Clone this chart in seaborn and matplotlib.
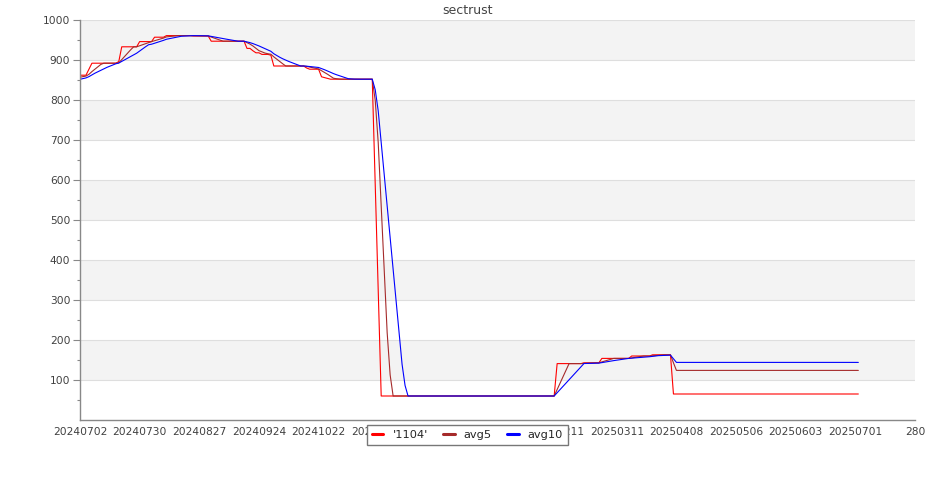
import pandas as pd
import matplotlib
matplotlib.use("Agg")
import matplotlib.pyplot as plt
from matplotlib.lines import Line2D
import seaborn as sns

# values, one point per trading day
raw = ([862] * 3 + [877] + [892] * 9 + [896] + [933] * 6 + [946] * 5 + [957] * 4
       + [961] * 9 + [960] * 6 + [947] * 12 + [929] * 2 + [923] + [918] * 2 + [914] * 3
       + [912] + [885] * 11 + [880] + [877] * 4 + [858, 856, 854] + [852] * 15
       + [588, 324] + [60] * 59 + [141] * 9 + [143] * 6 + [154] * 10 + [160] * 7
       + [163] * 7 + [65] * 63)

avg5 = ([857, 858.4, 859.8, 864.2, 871, 877, 883, 889] + [892] * 5 + [892.8]
        + [901, 909.2, 917.4, 925.6] + [933] * 2 + [935.6, 938.2, 940.8, 943.4, 946]
        + [948.2, 950.4, 952.6, 954.8, 957.8, 958.6, 959.4, 960.2] + [961] * 5
        + [960.8, 960.6, 960.4, 960.2] + [960] * 2 + [957.4, 954.8, 952.2, 949.6]
        + [947] * 8
        + [943.4, 939.8, 935, 929.2, 923.4, 920.4, 917.4, 915.6, 914.4, 907.8, 902,
           896.2, 890.4] + [885] * 7
        + [884, 882.4, 880.8, 879.2, 877.6, 873.2, 869, 864.4, 859.4, 854.4, 853.2,
           852.4] + [852] * 11
        + [799.2, 693.6, 535.2, 376.8, 218.4, 112.8] + [60] * 55
        + [76.2, 92.4, 108.6, 124.8, 141] + [141] * 4 + [141.4, 141.8, 142.2, 142.6]
        + [143] * 2 + [145.2, 147.4, 149.6, 151.8] + [154] * 6
        + [155.2, 156.4, 157.6, 158.8] + [160] * 3 + [160.6, 161.2, 161.8, 162.4]
        + [163] * 3 + [143] + [124] * 62)

avg10 = ([851.8, 853.5, 855.2, 858.4, 862.8, 867.0, 870.7, 874.4, 878.1, 881.5, 884.5,
          887.5, 890.5]
         + [892.4, 896.5, 900.6, 904.7, 908.8, 912.9, 917.0, 922.4, 927.8, 933.2, 938.2]
         + [939.5, 941.9, 944.3, 946.7, 949.1, 951.9, 953.4, 954.9, 956.4, 957.9, 959.4]
         + [959.8, 960.2, 960.6, 960.9, 960.8, 960.7, 960.6, 960.5, 960.4]
         + [959.0, 957.6, 956.2, 954.8, 953.5, 952.2, 950.9, 949.6, 948.3, 947.0]
         + [947] * 2
         + [945.2, 943.4, 941.0, 938.1, 935.2, 931.9, 928.6, 925.3, 921.8, 915.6, 911.2,
            906.8, 903.0, 899.7, 896.4, 893.5, 890.6, 887.7, 885.0] + [885]
         + [884.5, 883.7, 882.9, 882.1, 881.3, 878.6, 875.7, 872.6, 869.3, 866.0, 863.2,
            860.7, 858.2, 855.7, 853.2, 852.6, 852.2, 852.0] + [852] * 5
         + [825.6, 772.8, 693.6, 614.4, 535.2, 456, 376.8, 297.6, 218.4, 139.2, 86.4]
         + [60] * 50
         + [68.1, 76.2, 84.3, 92.4, 100.5, 108.6, 116.7, 124.8, 132.9]
         + [141.2, 141.4, 141.6, 141.8, 142.0, 142.2]
         + [143.5, 144.8, 146.1, 147.4, 148.5, 149.6, 150.7, 151.8, 152.9, 154.0]
         + [154.6, 155.2, 155.8, 156.4, 157.0, 157.6, 158.2]
         + [159.1, 160.0, 160.9, 161.2, 161.5, 161.8, 162.1] + [153] + [144] * 62)

x_labels = ["20240702", "20240730", "20240827", "20240924", "20241022", "20241119",
            "20241217", "20250114", "20250211", "20250311", "20250408", "20250506",
            "20250603", "20250701", "280"]

series = ["'1104'", "avg5", "avg10"]
colors = {"'1104'": "#ff0000", "avg5": "#a52a2a", "avg10": "#0000ff"}

df = pd.DataFrame({"idx": range(len(raw)), "'1104'": raw, "avg5": avg5, "avg10": avg10})
long = df.melt(id_vars="idx", var_name="series", value_name="value")

sns.set_style("white")
plt.rcParams["font.family"] = ["DejaVu Sans"]

fig = plt.figure(figsize=(9.35, 5.0), dpi=100)
ax = fig.add_axes([80 / 935, 80 / 500, 835 / 935, 400 / 500])

# alternating bands + grid
for lo in range(100, 1000, 200):
    ax.axhspan(lo, lo + 100, color="#f3f3f3", lw=0, zorder=0)
for v in range(100, 1001, 100):
    ax.axhline(v, color="#dedede", lw=0.8, zorder=0.5)

sns.lineplot(data=long, x="idx", y="value", hue="series", hue_order=series,
             palette=colors, linewidth=0.8, legend=False, ax=ax, zorder=2)

ax.set_xlim(0, 280)
ax.set_ylim(0, 1000)
ax.set_xticks(range(0, 281, 20))
ax.set_xticklabels(x_labels)
ax.set_yticks(range(100, 1001, 100))
ax.set_yticks(range(50, 1000, 100), minor=True)
ax.tick_params(axis="x", length=0, pad=5, labelsize=7.7, labelcolor="#404040")
ax.tick_params(axis="y", which="both", left=True)
ax.tick_params(axis="y", which="major", length=5, width=0.8, color="#888888",
               pad=2, labelsize=7.7, labelcolor="#404040")
ax.tick_params(axis="y", which="minor", length=2.5, width=0.8, color="#888888")
ax.set_xlabel("")
ax.set_ylabel("")
for s in ["top", "right"]:
    ax.spines[s].set_visible(False)
for s in ["left", "bottom"]:
    ax.spines[s].set_color("#888888")
    ax.spines[s].set_linewidth(1.0)

# title is centred on the whole figure, not on the plot area
fig.suptitle("sectrust", x=0.5, y=0.98, va="center", fontsize=9, color="#444444")

handles = [Line2D([], [], color=colors[s], lw=2.2) for s in series]
leg = fig.legend(handles, series, loc="upper center", bbox_to_anchor=(0.5, 0.15),
                 ncol=3, fontsize=8.2, frameon=True, fancybox=False, framealpha=1,
                 edgecolor="#777777", borderaxespad=0, borderpad=0.45,
                 handlelength=1.0, handletextpad=0.8, columnspacing=1.35)
leg.get_frame().set_linewidth(1.0)

fig.savefig("out.png", dpi=100)
